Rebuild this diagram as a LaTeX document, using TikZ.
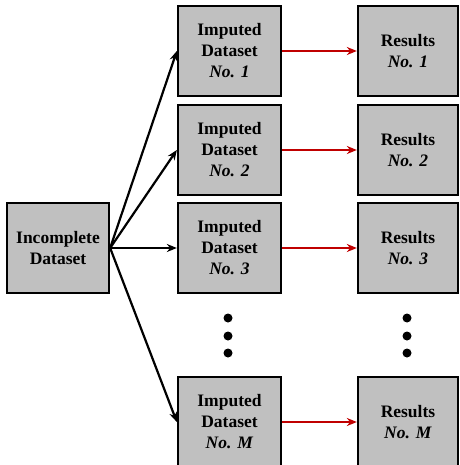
\documentclass[tikz,border=0pt]{standalone}
\usepackage{fontspec}
\setmainfont{Liberation Serif}
\usepackage{tikz}
\usetikzlibrary{arrows.meta}

\definecolor{boxgray}{HTML}{C0C0C0}
\definecolor{arrred}{HTML}{C00000}

\begin{document}
\begin{tikzpicture}[
    x=1pt, y=-1pt,
    >={Stealth[length=10pt,width=8pt]},
    % Style for the gray data boxes
    databox/.style={
        draw=black, line width=2.3pt, fill=boxgray,
        minimum height=90pt, align=center, inner sep=0pt,
        font=\fontsize{17.5}{21}\selectfont\bfseries
    },
    blackarr/.style={->, line width=2.2pt, black},
    redarr/.style={->, line width=2.2pt, arrred}
]
\useasboundingbox (0,0) rectangle (459,465);

% --- Source box ---
\node[databox, minimum width=102pt] (inc) at (58,248) {Incomplete\\Dataset};

% --- Imputed datasets and their results ---
\foreach \n/\y in {1/51, 2/150, 3/248, M/422} {
    \node[databox, minimum width=103pt] (imp\n) at (229.5,\y)
        {Imputed\\Dataset\\\textit{No. \n}};
    \node[databox, minimum width=100pt] (res\n) at (408,\y)
        {Results\\\textit{No. \n}};
    \draw[blackarr] (inc.east) -- (imp\n.west);
    \draw[redarr] (imp\n.east) -- (res\n.west);
}

% --- Ellipsis dots ---
\foreach \x in {228, 407} {
    \foreach \y in {318, 336, 353} {
        \fill[black] (\x,\y) circle (4.5pt);
    }
}

\end{tikzpicture}
\end{document}
